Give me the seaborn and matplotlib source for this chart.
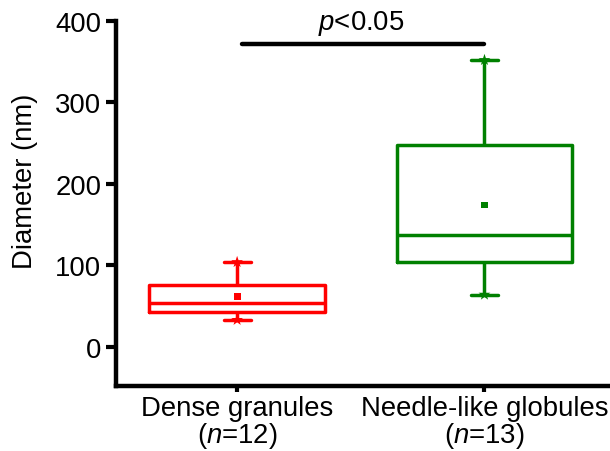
import numpy as np
import pandas as pd
import seaborn as sns
import matplotlib
matplotlib.use("Agg")
import matplotlib.pyplot as plt

# values (nm)
groups = ["Dense granules\n($\\mathit{n}$=12)", "Needle-like globules\n($\\mathit{n}$=13)"]
mins = [33, 64]
q1s = [43, 104]
medians = [54, 137]
q3s = [76, 248]
maxs = [104, 352]
means = [62, 174]
colors = ["#ff0000", "#008000"]

sns.set_style("ticks")
plt.rcParams["font.family"] = ["Liberation Sans", "DejaVu Sans"]
plt.rcParams["mathtext.fontset"] = "custom"
plt.rcParams["mathtext.rm"] = "Liberation Sans"
plt.rcParams["mathtext.it"] = "Liberation Sans:italic"
plt.rcParams["text.color"] = "black"
plt.rcParams["axes.labelcolor"] = "black"
plt.rcParams["xtick.color"] = "black"
plt.rcParams["ytick.color"] = "black"
plt.rcParams["axes.edgecolor"] = "black"

# five-number summaries; with whis=(0,100) the box shows exactly these
rows = []
for g, a, b, c, d, e in zip(groups, mins, q1s, medians, q3s, maxs):
    for v in (a, b, c, d, e):
        rows.append({"group": g, "value": v})
df = pd.DataFrame(rows)
summ = pd.DataFrame({"group": groups, "mean": means, "min": mins, "max": maxs})

fig = plt.figure(figsize=(6.1, 4.52), dpi=100)
ax = fig.add_axes([0.190, 0.144, 0.807, 0.8075])

sns.boxplot(data=df, x="group", y="value", hue="group", palette=colors,
            fill=False, whis=(0, 100), width=0.71, linewidth=2.5,
            capwidths=0.11, legend=False, ax=ax)
sns.scatterplot(data=summ, x="group", y="mean", hue="group", palette=colors,
                marker="s", s=24, linewidth=0, legend=False, ax=ax)
for col in ("min", "max"):
    sns.scatterplot(data=summ, x="group", y=col, hue="group", palette=colors,
                    marker="*", s=80, linewidth=0, legend=False, ax=ax)

fs = 19.8
ax.set_ylim(-48, 400)
ax.set_xlim(-0.49, 1.5)
ax.set_yticks([0, 100, 200, 300, 400])
ax.set_xlabel("")
ax.set_ylabel("Diameter (nm)", fontsize=fs)
ax.yaxis.set_label_coords(-0.158, 0.562)
ax.tick_params(axis="both", labelsize=fs, width=3)
ax.tick_params(axis="x", length=4.5, pad=2)
ax.tick_params(axis="y", length=7, pad=3.5)
for lab in ax.get_xticklabels():
    lab.set_linespacing(0.95)
sns.despine(ax=ax)
for s in ("left", "bottom"):
    ax.spines[s].set_linewidth(3.2)

# significance bar
ax.plot([0.02, 1.0], [372, 372], color="black", lw=3.2, clip_on=False)
ax.text(0.5, 390, "$\\mathit{p}$<0.05", ha="center", va="baseline", fontsize=fs, clip_on=False)

fig.savefig("out.png", dpi=100)
